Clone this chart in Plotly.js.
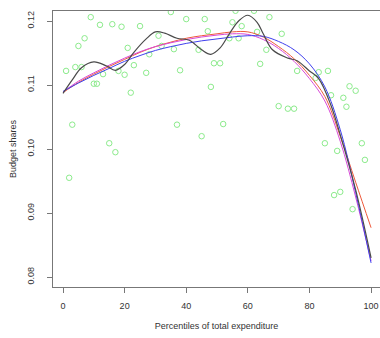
<!DOCTYPE html>
<html>
<head>
<meta charset="utf-8">
<script src="https://cdn.plot.ly/plotly-3.0.1.min.js"></script>
<style>html,body{margin:0;padding:0;background:#fff;}#chart{width:380px;height:338px;}</style>
</head>
<body>
<div id="chart"></div>
<script>
// Scatter data: percentile vs budget share
const pointX = [1,2,3,4,6,5,7,9,12,16,19,25,10,11,13,18,20,22,23,21,27,28,15,17,38,35,31,32,36,37,40,46,55,58,47,44,49,51,54,57,63,67,66,64,71,48,52,45,70,73,75,76,83,86,82,87,91,92,93,95,85,89,97,98,88,90,94,56,62];
const pointY = [0.1122,0.0955,0.1038,0.1128,0.1128,0.1161,0.1173,0.1206,0.1194,0.1195,0.1191,0.1192,0.1102,0.1102,0.1117,0.1122,0.1116,0.1088,0.1131,0.1158,0.1119,0.1148,0.1009,0.0995,0.1123,0.1214,0.1177,0.1161,0.1156,0.1038,0.1203,0.1203,0.1198,0.1192,0.1184,0.1155,0.1134,0.1134,0.1173,0.1173,0.1183,0.1206,0.1155,0.1133,0.1180,0.1097,0.1039,0.1020,0.1067,0.1063,0.1063,0.1122,0.1120,0.1122,0.1111,0.1084,0.1080,0.1066,0.1098,0.1091,0.1009,0.0997,0.1009,0.0983,0.0928,0.0933,0.0906,0.1216,0.1216];

// Smooth fits
const gridX = [0,5,10,15,20,25,30,35,40,45,50,55,60,65,70,75,80,85,90,95,100];
const redY = [0.1088,0.1104,0.1117,0.1129,0.1140,0.1151,0.1160,0.1167,0.1173,0.1177,0.1180,0.1183,0.1183,0.1175,0.1160,0.1141,0.1115,0.1082,0.1020,0.0948,0.0877];
const blueY = [0.1090,0.1103,0.1115,0.1126,0.1137,0.1146,0.1154,0.1160,0.1165,0.1169,0.1172,0.1175,0.1177,0.1176,0.1168,0.1155,0.1133,0.1097,0.1030,0.0932,0.0822];
const magentaY = [0.1089,0.1106,0.1119,0.1131,0.1142,0.1152,0.1160,0.1166,0.1171,0.1175,0.1178,0.1180,0.1179,0.1171,0.1157,0.1137,0.1110,0.1075,0.1012,0.0925,0.0825];

// Wiggly fit
const blackX = [0,3,6,10,14,17,20,23,27,30,33,37,41,45,48,51,54,57,60,63,65,68,73,76,80,83,87,90,95,100];
const blackY = [0.1087,0.1108,0.1127,0.1136,0.1130,0.1123,0.1132,0.1151,0.1172,0.1183,0.1181,0.1173,0.1170,0.1155,0.1148,0.1158,0.1180,0.1200,0.1209,0.1198,0.1180,0.1155,0.1142,0.1138,0.1122,0.1110,0.1068,0.1022,0.0936,0.0830];

const xTicks = [0,20,40,60,80,100];
const yTicks = [0.08,0.09,0.10,0.11,0.12];
const yTickText = ['0.08','0.09','0.10','0.11','0.12'];

const traces = [
  {x: pointX, y: pointY, type: 'scatter', mode: 'markers',
   marker: {symbol: 'circle-open', size: 5.5, color: '#8ceb8c', line: {width: 1}}},
  {x: gridX, y: redY, type: 'scatter', mode: 'lines', line: {color: '#ee5a3c', width: 1, shape: 'spline'}},
  {x: gridX, y: magentaY, type: 'scatter', mode: 'lines', line: {color: '#d84ad8', width: 1, shape: 'spline'}},
  {x: gridX, y: blueY, type: 'scatter', mode: 'lines', line: {color: '#4040ee', width: 1, shape: 'spline'}},
  {x: blackX, y: blackY, type: 'scatter', mode: 'lines', line: {color: '#4a4a4a', width: 1.2, shape: 'spline'}}
];

const layout = {
  width: 380, height: 338,
  margin: {l: 53, r: 0, t: 11, b: 51},
  showlegend: false,
  paper_bgcolor: '#fff', plot_bgcolor: '#fff',
  font: {family: 'Liberation Sans, Arial, sans-serif', size: 9, color: '#333'},
  xaxis: {
    range: [-3.25, 102.9], tickvals: xTicks, ticktext: xTicks.map(String),
    showgrid: false, zeroline: false, showline: true, mirror: true, linecolor: '#777', linewidth: 1,
    ticks: 'outside', ticklen: 5, tickcolor: '#777', ticklabelstandoff: 5,
    title: {text: 'Percentiles of total expenditure', standoff: 12, font: {size: 9, color: '#333'}}
  },
  yaxis: {
    range: [0.078437, 0.121563], tickvals: yTicks, ticktext: yTickText, tickangle: -90,
    showgrid: false, zeroline: false, showline: true, mirror: true, linecolor: '#777', linewidth: 1,
    ticks: 'outside', ticklen: 5, tickcolor: '#777', ticklabelstandoff: 9,
    title: {text: 'Budget shares', standoff: 8, font: {size: 9, color: '#333'}}
  }
};

Plotly.newPlot('chart', traces, layout, {staticPlot: true, displayModeBar: false});
</script>
</body>
</html>
